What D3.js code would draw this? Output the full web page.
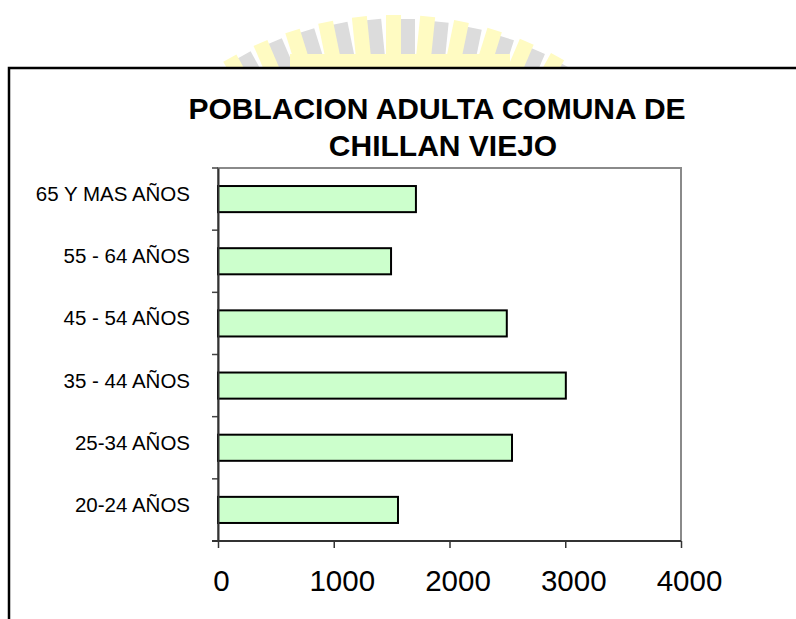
<!DOCTYPE html>
<html>
<head>
<meta charset="utf-8">
<script src="https://cdn.jsdelivr.net/npm/d3@7"></script>
<style>
  body { margin: 0; background: #fff; }
  svg { display: block; font-family: Arial, "Liberation Sans", sans-serif; }
</style>
</head>
<body>
<svg></svg>
<script>
const w = 796;
const h = 619;

// data, top to bottom
const categories = ['65 Y MAS AÑOS', '55 - 64 AÑOS', '45 - 54 AÑOS', '35 - 44 AÑOS', '25-34 AÑOS', '20-24 AÑOS'];
const values = [1710, 1495, 2495, 3005, 2540, 1555];
const xTicks = [0, 1000, 2000, 3000, 4000];
const titleLines = ['POBLACION ADULTA COMUNA DE', 'CHILLAN VIEJO'];

const plot = { left: 218, right: 681, top: 168, bottom: 541 };

const svg = d3.select('svg').attr('width', w).attr('height', h);

// faded logo peeking over the frame
const logo = svg.append('g');
d3.range(-5, 6).forEach((k) => {
    const g = logo.append('g')
        .attr('transform', 'translate(395,353) rotate(' + k * 5.8 + ')');
    g.append('rect')
        .attr('x', 0).attr('y', -334)
        .attr('width', 20).attr('height', 330)
        .attr('fill', '#dcdcdc');
    g.append('rect')
        .attr('x', -9).attr('y', -338)
        .attr('width', 15).attr('height', 330)
        .attr('fill', '#fffbc2');
});
logo.append('rect')
    .attr('x', 290).attr('y', 54).attr('width', 220).attr('height', 14)
    .attr('fill', '#fffbc2');

// white chart area + frame
svg.append('rect')
    .attr('x', 9).attr('y', 68).attr('width', w - 9).attr('height', h - 68)
    .attr('fill', '#fff');
svg.append('path')
    .attr('d', 'M9,' + h + 'V68H' + w)
    .attr('fill', 'none')
    .attr('stroke', '#000')
    .attr('stroke-width', 2.5);

// title
svg.append('g').selectAll('text')
    .data(titleLines)
    .enter()
    .append('text')
    .attr('x', (d, i) => (i === 0 ? 437 : 443))
    .attr('y', (d, i) => 119 + i * 37)
    .attr('text-anchor', 'middle')
    .attr('font-size', 30)
    .attr('font-weight', 'bold')
    .text((d) => d);

// scales
const xScale = d3.scaleLinear()
    .domain([0, 4000])
    .range([plot.left, plot.right]);
const yScale = d3.scaleBand()
    .domain(categories)
    .range([plot.top, plot.bottom])
    .paddingInner(0.58)
    .paddingOuter(0.29);

// plot area border (gray)
svg.append('rect')
    .attr('x', plot.left).attr('y', plot.top)
    .attr('width', plot.right - plot.left).attr('height', plot.bottom - plot.top)
    .attr('fill', 'none')
    .attr('stroke', '#8a8a8a')
    .attr('stroke-width', 2);

// bars
svg.append('g')
    .selectAll('rect')
    .data(values)
    .enter()
    .append('rect')
    .attr('x', xScale(0))
    .attr('y', (d, i) => yScale(categories[i]))
    .attr('width', (d) => xScale(d) - xScale(0))
    .attr('height', yScale.bandwidth())
    .attr('fill', '#ccffcc')
    .attr('stroke', '#000')
    .attr('stroke-width', 2);

// category ticks sit between bands
const gap = (yScale.step() - yScale.bandwidth()) / 2;
const bounds = categories.map((c) => yScale(c) - gap);
svg.append('g')
    .selectAll('line')
    .data(bounds)
    .enter()
    .append('line')
    .attr('x1', plot.left - 6).attr('x2', plot.left)
    .attr('y1', (d) => d).attr('y2', (d) => d)
    .attr('stroke', '#444')
    .attr('stroke-width', 1.5);

// y labels
const yAxis = d3.axisLeft(yScale).tickSize(0).tickPadding(28);
const yg = svg.append('g')
    .attr('transform', 'translate(' + plot.left + ',0)')
    .call(yAxis);
yg.select('.domain')
    .attr('stroke', '#333')
    .attr('stroke-width', 2);
yg.selectAll('text')
    .attr('font-size', 20.5)
    .attr('font-family', 'Arial, "Liberation Sans", sans-serif')
    .attr('fill', '#000')
    .attr('dy', '0.1em');

// x axis
const xAxis = d3.axisBottom(xScale)
    .tickValues(xTicks)
    .tickSize(7)
    .tickPadding(22)
    .tickSizeOuter(0)
    .tickFormat(d3.format('d'));
const xg = svg.append('g')
    .attr('transform', 'translate(0,' + plot.bottom + ')')
    .call(xAxis);
xg.select('.domain').remove();
xg.append('line')
    .attr('x1', plot.left - 6).attr('x2', plot.right)
    .attr('stroke', '#333')
    .attr('stroke-width', 2);
xg.selectAll('.tick line').attr('stroke', '#333').attr('stroke-width', 1.5);
xg.selectAll('text')
    .attr('font-size', 29.5)
    .attr('font-family', 'Arial, "Liberation Sans", sans-serif')
    .attr('fill', '#000')
    .attr('dx', (d) => (d === 0 ? 3 : 8));
</script>
</body>
</html>
